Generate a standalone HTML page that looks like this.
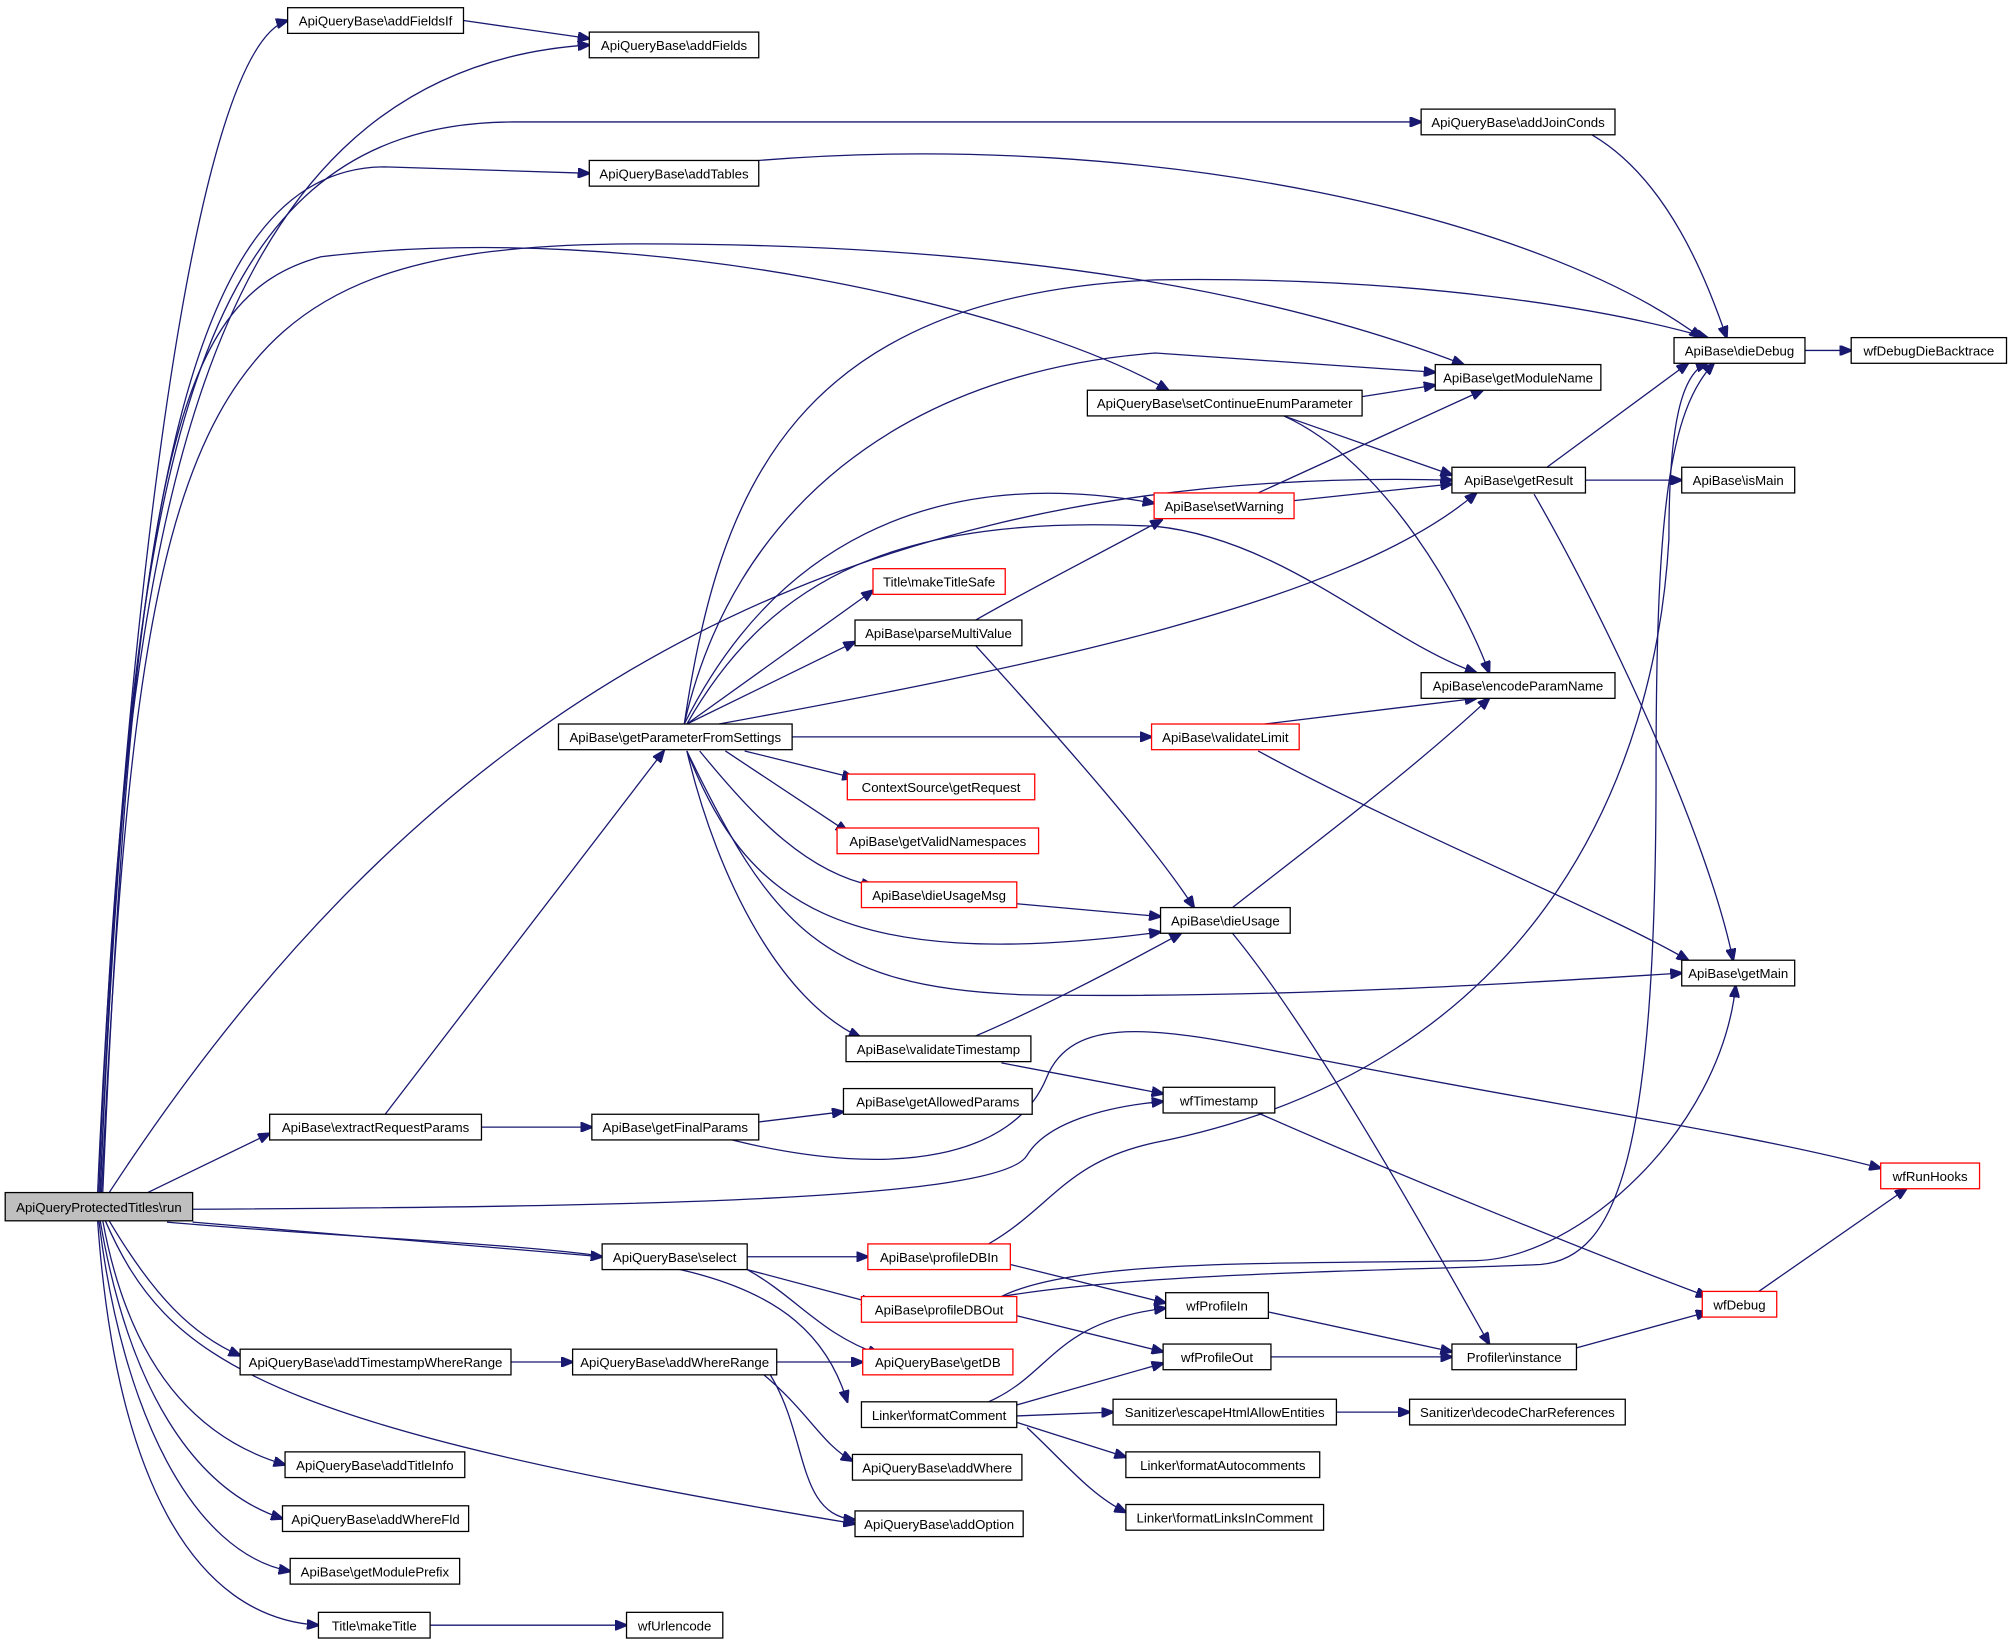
<!DOCTYPE html>
<html><head><meta charset="utf-8"><style>
html,body{margin:0;padding:0;background:#fff;}
svg{display:block;}
text{font-family:"Liberation Sans",sans-serif;font-size:10.3px;fill:#000;text-anchor:middle;}
.n{fill:#fff;stroke:#000;stroke-width:1;}
.r{fill:#fff;stroke:#ff0000;stroke-width:1;}
.e{fill:none;stroke:#191970;stroke-width:1;}
</style></head><body>
<svg width="2013" height="1647" viewBox="0 0 1568 1283" xmlns="http://www.w3.org/2000/svg">
<defs><marker id="a" markerWidth="10" markerHeight="8" refX="9" refY="4" orient="auto" markerUnits="userSpaceOnUse"><path d="M0,0 L10,4 L0,8 z" fill="#191970" stroke="#191970"/></marker></defs>
<g class="e" marker-end="url(#a)">
<!-- run edges -->
<path d="M76,929 C90,600 140,40 224,16"/>
<path d="M77,929 C95,450 140,55 459,35"/>
<path d="M78,929 C100,380 140,95 400,95 L1107,95"/>
<path d="M78,929 C100,420 140,130 300,130 L459,135"/>
<path d="M79,929 C110,300 150,190 500,190 C800,190 1000,230 1140,284"/>
<path d="M80,929 C105,350 140,230 250,200 C500,170 800,240 910,304"/>
<path d="M85,929 C300,600 600,360 1131,374"/>
<path d="M115,929 L210,883"/>
<path d="M150,942 C500,940 780,935 800,900 C815,875 860,862 906,858"/>
<path d="M150,952 L469,979"/>
<path d="M130,952 C450,980 620,960 660,1092"/>
<path d="M85,951 C120,1010 150,1040 187,1056"/>
<path d="M82,951 C130,1060 200,1110 666,1187"/>
<path d="M80,951 C100,1060 150,1120 222,1141"/>
<path d="M78,951 C100,1080 150,1160 220,1183"/>
<path d="M77,951 C95,1100 150,1210 226,1224"/>
<path d="M76,951 C90,1150 150,1260 248,1266"/>
<path d="M361,16 L459,30"/>
<path d="M591,125 C900,100 1200,170 1325,263"/>
<path d="M1240,105 C1300,140 1330,220 1345,263"/>
<path d="M1406,273 L1442,273"/>
<path d="M1061,309 L1118,300"/>
<path d="M1000,324 L1131,370"/>
<path d="M1000,324 C1080,360 1140,470 1160,524"/>
<path d="M1235,374 L1310,374"/>
<path d="M1205,364 L1315,283"/>
<path d="M1195,385 C1250,480 1330,650 1350,748"/>
<path d="M1008,390 L1131,377"/>
<path d="M980,384 L1155,304"/>
<!-- getParameterFromSettings -->
<path d="M533,564 C560,380 620,230 900,218 C1100,215 1250,240 1330,263"/>
<path d="M533,564 C570,400 700,290 900,275 L1118,290"/>
<path d="M533,564 C600,430 720,360 899,392"/>
<path d="M535,564 C600,450 700,400 900,410 C1000,420 1080,500 1150,524"/>
<path d="M535,564 L680,460"/>
<path d="M535,564 L666,500"/>
<path d="M560,564 C800,520 1050,470 1150,384"/>
<path d="M617,574 L897,574"/>
<path d="M580,585 L665,606"/>
<path d="M565,585 L660,648"/>
<path d="M545,585 C590,640 630,680 680,690"/>
<path d="M535,585 C580,700 650,760 904,726"/>
<path d="M535,585 C600,720 640,770 800,775 C1000,778 1200,765 1310,758"/>
<path d="M535,585 C560,690 610,780 670,808"/>
<path d="M300,868 L517,585"/>
<path d="M375,878 L461,878"/>
<path d="M591,874 L657,866"/>
<path d="M570,888 C700,920 790,900 815,840 C835,790 900,800 1000,820 C1200,860 1350,880 1465,910"/>
<path d="M760,483 C800,460 840,440 905,405"/>
<path d="M760,503 C830,580 900,660 930,707"/>
<path d="M985,564 L1150,544"/>
<path d="M980,585 C1100,650 1250,710 1315,748"/>
<path d="M792,704 L904,714"/>
<path d="M960,707 C1020,660 1100,600 1160,544"/>
<path d="M960,727 C1020,800 1100,940 1160,1047"/>
<path d="M760,807 C800,790 860,760 920,727"/>
<path d="M780,828 L906,852"/>
<path d="M980,867 C1100,920 1250,980 1330,1010"/>
<path d="M1370,1006 L1485,926"/>
<path d="M1228,1050 L1330,1022"/>
<path d="M582,979 L676,979"/>
<path d="M582,989 L680,1015"/>
<path d="M582,989 C620,1010 640,1040 685,1055"/>
<path d="M787,985 L908,1015"/>
<path d="M770,969 C820,940 830,905 900,890 C1200,830 1290,600 1300,420 C1300,330 1310,290 1330,283"/>
<path d="M792,1025 L906,1053"/>
<path d="M780,1010 C840,980 1000,985 1150,982 C1230,980 1340,880 1352,768"/>
<path d="M780,1010 C900,990 1100,990 1200,985 C1260,980 1290,900 1290,600 C1290,400 1300,320 1335,283"/>
<path d="M988,1022 L1131,1053"/>
<path d="M990,1057 L1131,1057"/>
<path d="M398,1061 L446,1061"/>
<path d="M605,1061 L672,1061"/>
<path d="M595,1071 C630,1100 640,1125 664,1138"/>
<path d="M600,1071 C630,1120 620,1180 666,1184"/>
<path d="M770,1092 C820,1070 820,1030 908,1019"/>
<path d="M790,1095 L906,1062"/>
<path d="M792,1103 L867,1100"/>
<path d="M792,1108 L877,1135"/>
<path d="M800,1112 C830,1140 850,1165 877,1178"/>
<path d="M1041,1100 L1098,1100"/>
<path d="M335,1266 L488,1266"/>
</g>
<g>
<rect x="4" y="929" width="146" height="22" fill="#bfbfbf" stroke="#000"/><text x="77" y="944">ApiQueryProtectedTitles\run</text>
<rect class="n" x="224" y="6" width="137" height="20"/><text x="292.5" y="20">ApiQueryBase\addFieldsIf</text>
<rect class="n" x="459" y="25" width="132" height="20"/><text x="525" y="39">ApiQueryBase\addFields</text>
<rect class="n" x="1107" y="85" width="151" height="20"/><text x="1182.5" y="99">ApiQueryBase\addJoinConds</text>
<rect class="n" x="459" y="125" width="132" height="20"/><text x="525" y="139">ApiQueryBase\addTables</text>
<rect class="n" x="1304" y="263" width="102" height="20"/><text x="1355" y="277">ApiBase\dieDebug</text>
<rect class="n" x="1442" y="263" width="121" height="20"/><text x="1502.5" y="277">wfDebugDieBacktrace</text>
<rect class="n" x="1118" y="284" width="129" height="20"/><text x="1182.5" y="298">ApiBase\getModuleName</text>
<rect class="n" x="847" y="304" width="214" height="20"/><text x="954" y="318">ApiQueryBase\setContinueEnumParameter</text>
<rect class="n" x="1131" y="364" width="104" height="20"/><text x="1183" y="378">ApiBase\getResult</text>
<rect class="n" x="1310" y="364" width="88" height="20"/><text x="1354" y="378">ApiBase\isMain</text>
<rect class="r" x="899" y="384" width="109" height="20"/><text x="953.5" y="398">ApiBase\setWarning</text>
<rect class="r" x="680" y="443" width="103" height="20"/><text x="731.5" y="457">Title\makeTitleSafe</text>
<rect class="n" x="666" y="483" width="130" height="20"/><text x="731" y="497">ApiBase\parseMultiValue</text>
<rect class="n" x="1107" y="524" width="151" height="20"/><text x="1182.5" y="538">ApiBase\encodeParamName</text>
<rect class="n" x="435" y="564" width="182" height="20"/><text x="526" y="578">ApiBase\getParameterFromSettings</text>
<rect class="r" x="897" y="564" width="115" height="20"/><text x="954.5" y="578">ApiBase\validateLimit</text>
<rect class="r" x="660" y="603" width="146" height="20"/><text x="733" y="617">ContextSource\getRequest</text>
<rect class="r" x="652" y="645" width="157" height="20"/><text x="730.5" y="659">ApiBase\getValidNamespaces</text>
<rect class="r" x="671" y="687" width="121" height="20"/><text x="731.5" y="701">ApiBase\dieUsageMsg</text>
<rect class="n" x="904" y="707" width="101" height="20"/><text x="954.5" y="721">ApiBase\dieUsage</text>
<rect class="n" x="1310" y="748" width="88" height="20"/><text x="1354" y="762">ApiBase\getMain</text>
<rect class="n" x="659" y="807" width="144" height="20"/><text x="731" y="821">ApiBase\validateTimestamp</text>
<rect class="n" x="906" y="847" width="87" height="20"/><text x="949.5" y="861">wfTimestamp</text>
<rect class="n" x="210" y="868" width="165" height="20"/><text x="292.5" y="882">ApiBase\extractRequestParams</text>
<rect class="n" x="461" y="868" width="130" height="20"/><text x="526" y="882">ApiBase\getFinalParams</text>
<rect class="n" x="657" y="848" width="147" height="20"/><text x="730.5" y="862">ApiBase\getAllowedParams</text>
<rect class="r" x="1465" y="906" width="77" height="20"/><text x="1503.5" y="920">wfRunHooks</text>
<rect class="n" x="469" y="969" width="113" height="20"/><text x="525.5" y="983">ApiQueryBase\select</text>
<rect class="r" x="676" y="969" width="111" height="20"/><text x="731.5" y="983">ApiBase\profileDBIn</text>
<rect class="r" x="671" y="1010" width="121" height="20"/><text x="731.5" y="1024">ApiBase\profileDBOut</text>
<rect class="n" x="908" y="1007" width="80" height="20"/><text x="948" y="1021">wfProfileIn</text>
<rect class="r" x="1326" y="1006" width="58" height="20"/><text x="1355" y="1020">wfDebug</text>
<rect class="n" x="906" y="1047" width="84" height="20"/><text x="948" y="1061">wfProfileOut</text>
<rect class="n" x="1131" y="1047" width="97" height="20"/><text x="1179.5" y="1061">Profiler\instance</text>
<rect class="r" x="672" y="1051" width="117" height="20"/><text x="730.5" y="1065">ApiQueryBase\getDB</text>
<rect class="n" x="187" y="1051" width="211" height="20"/><text x="292.5" y="1065">ApiQueryBase\addTimestampWhereRange</text>
<rect class="n" x="446" y="1051" width="159" height="20"/><text x="525.5" y="1065">ApiQueryBase\addWhereRange</text>
<rect class="n" x="671" y="1092" width="121" height="20"/><text x="731.5" y="1106">Linker\formatComment</text>
<rect class="n" x="867" y="1090" width="174" height="20"/><text x="954" y="1104">Sanitizer\escapeHtmlAllowEntities</text>
<rect class="n" x="1098" y="1090" width="168" height="20"/><text x="1182" y="1104">Sanitizer\decodeCharReferences</text>
<rect class="n" x="877" y="1131" width="151" height="20"/><text x="952.5" y="1145">Linker\formatAutocomments</text>
<rect class="n" x="877" y="1172" width="154" height="20"/><text x="954" y="1186">Linker\formatLinksInComment</text>
<rect class="n" x="222" y="1131" width="140" height="20"/><text x="292" y="1145">ApiQueryBase\addTitleInfo</text>
<rect class="n" x="220" y="1173" width="145" height="20"/><text x="292.5" y="1187">ApiQueryBase\addWhereFld</text>
<rect class="n" x="664" y="1133" width="132" height="20"/><text x="730" y="1147">ApiQueryBase\addWhere</text>
<rect class="n" x="666" y="1177" width="131" height="20"/><text x="731.5" y="1191">ApiQueryBase\addOption</text>
<rect class="n" x="226" y="1214" width="132" height="20"/><text x="292" y="1228">ApiBase\getModulePrefix</text>
<rect class="n" x="248" y="1256" width="87" height="20"/><text x="291.5" y="1270">Title\makeTitle</text>
<rect class="n" x="488" y="1256" width="75" height="20"/><text x="525.5" y="1270">wfUrlencode</text>
</g>
</svg>
</body></html>
